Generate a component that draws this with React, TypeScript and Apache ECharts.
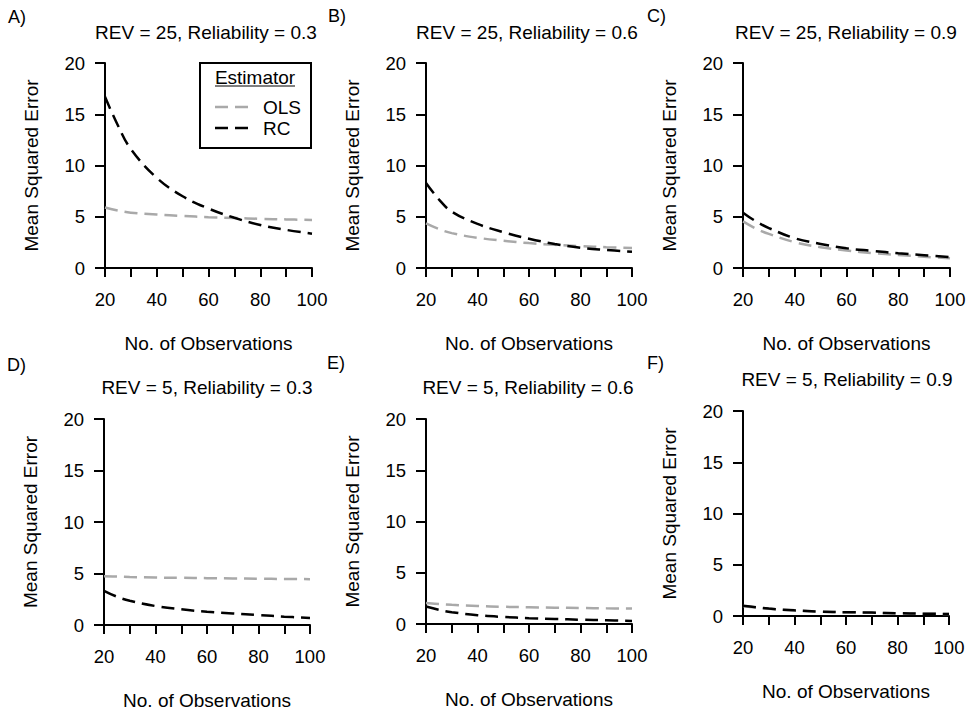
import React, { useEffect, useRef } from "react";
import * as echarts from "echarts";

const xs = [20, 25, 30, 40, 50, 60, 70, 80, 90, 100];

const olsA = [5.9, 5.6, 5.4, 5.22, 5.08, 4.96, 4.88, 4.8, 4.74, 4.69];
const rcA = [16.7, 13.9, 11.6, 8.8, 7.0, 5.8, 4.9, 4.2, 3.72, 3.35];
const olsB = [4.35, 3.8, 3.4, 2.95, 2.66, 2.43, 2.26, 2.13, 2.03, 1.96];
const rcB = [8.3, 6.7, 5.5, 4.3, 3.5, 2.85, 2.35, 1.98, 1.76, 1.58];
const olsC = [4.55, 3.85, 3.33, 2.52, 2.03, 1.7, 1.45, 1.27, 1.1, 0.95];
const rcC = [5.4, 4.55, 3.9, 2.9, 2.35, 1.92, 1.67, 1.44, 1.25, 1.06];
const olsD = [4.74, 4.7, 4.66, 4.61, 4.58, 4.55, 4.52, 4.49, 4.47, 4.45];
const rcD = [3.32, 2.75, 2.35, 1.84, 1.52, 1.29, 1.12, 0.97, 0.81, 0.68];
const olsE = [2.04, 1.95, 1.87, 1.75, 1.68, 1.63, 1.59, 1.56, 1.53, 1.51];
const rcE = [1.7, 1.38, 1.15, 0.86, 0.69, 0.57, 0.49, 0.42, 0.36, 0.3];
const olsF = [0.98, 0.83, 0.71, 0.54, 0.42, 0.36, 0.32, 0.26, 0.23, 0.2];
const rcF = [1.0, 0.85, 0.72, 0.55, 0.43, 0.37, 0.33, 0.27, 0.23, 0.2];

const panelLetters = ["A)", "B)", "C)", "D)", "E)", "F)"];
const panelTitles = [
  "REV = 25, Reliability = 0.3",
  "REV = 25, Reliability = 0.6",
  "REV = 25, Reliability = 0.9",
  "REV = 5, Reliability = 0.3",
  "REV = 5, Reliability = 0.6",
  "REV = 5, Reliability = 0.9",
];
const olsSeries = [olsA, olsB, olsC, olsD, olsE, olsF];
const rcSeries = [rcA, rcB, rcC, rcD, rcE, rcF];
const estimatorNames = ["OLS", "RC"];
const xTicks = [20, 40, 60, 80, 100];
const yTicks = [0, 5, 10, 15, 20];

const FONT = "'Liberation Sans', Arial, Helvetica, sans-serif";
const GRAY = "#a9a9a9";
const DASH = [13, 7];

// layout of panels (px)
const grids = [
  { left: 105, top: 63, width: 207, height: 205 },
  { left: 426, top: 63, width: 206, height: 205 },
  { left: 743, top: 63, width: 207, height: 205 },
  { left: 104, top: 419, width: 206, height: 206 },
  { left: 426, top: 419, width: 206, height: 205 },
  { left: 743, top: 411, width: 206, height: 205 },
];
const titlePos = [
  [206, 32], [527, 32], [846, 32],
  [207, 387], [528, 387], [847, 379],
];
const letterPos = [
  [8, 17], [328, 16], [647, 16],
  [7, 365], [327, 363], [647, 363],
];

export default function App() {
  const ref = useRef<HTMLDivElement>(null);
  useEffect(() => {
    if (!ref.current) return;
    const chart = echarts.init(ref.current, null, { renderer: "svg" });
    const xAxes: any[] = [];
    const yAxes: any[] = [];
    const series: any[] = [];
    const graphics: any[] = [];
    grids.forEach((g, i) => {
      xAxes.push({
        gridIndex: i,
        type: "value",
        min: xTicks[0],
        max: xTicks[xTicks.length - 1],
        interval: 20,
        axisLine: { show: true, onZero: false, lineStyle: { color: "#000", width: 2 } },
        axisTick: { show: true, length: 9, lineStyle: { color: "#000", width: 2 } },
        minorTick: { show: true, splitNumber: 2, length: 9, lineStyle: { color: "#000", width: 2 } },
        splitLine: { show: false },
        minorSplitLine: { show: false },
        axisLabel: { margin: 22, fontSize: 18.5, color: "#000", fontFamily: FONT },
        name: "No. of Observations",
        nameLocation: "middle",
        nameGap: 66,
        nameTextStyle: { fontSize: 19, color: "#000", fontFamily: FONT },
      });
      yAxes.push({
        gridIndex: i,
        type: "value",
        min: yTicks[0],
        max: yTicks[yTicks.length - 1],
        interval: 5,
        axisLine: { show: true, onZero: false, lineStyle: { color: "#000", width: 2 } },
        axisTick: { show: true, length: 10, lineStyle: { color: "#000", width: 2 } },
        splitLine: { show: false },
        axisLabel: { margin: 20, fontSize: 18.5, color: "#000", fontFamily: FONT },
        name: "Mean Squared Error",
        nameLocation: "middle",
        nameRotate: 90,
        nameGap: 64,
        nameTextStyle: { fontSize: 19, color: "#000", fontFamily: FONT },
      });
      series.push({
        name: estimatorNames[0],
        type: "line",
        xAxisIndex: i,
        yAxisIndex: i,
        data: xs.map((x, j) => [x, olsSeries[i][j]]),
        showSymbol: false,
        symbol: "none",
        smooth: 0.4,
        z: 2,
        lineStyle: { color: GRAY, width: 2.5, type: DASH },
      });
      series.push({
        name: estimatorNames[1],
        type: "line",
        xAxisIndex: i,
        yAxisIndex: i,
        data: xs.map((x, j) => [x, rcSeries[i][j]]),
        showSymbol: false,
        symbol: "none",
        smooth: 0.4,
        z: 3,
        lineStyle: { color: "#000", width: 2.5, type: DASH },
      });
      graphics.push({
        type: "text",
        x: titlePos[i][0],
        y: titlePos[i][1],
        style: {
          text: panelTitles[i],
          fontSize: 19,
          fontFamily: FONT,
          fill: "#000",
          align: "center",
          verticalAlign: "middle",
        },
      });
      graphics.push({
        type: "text",
        x: letterPos[i][0],
        y: letterPos[i][1],
        style: {
          text: panelLetters[i],
          fontSize: 18,
          fontFamily: FONT,
          fill: "#000",
          align: "left",
          verticalAlign: "middle",
        },
      });
    });

    // legend box in panel A
    graphics.push({
      type: "rect",
      shape: { x: 200, y: 63, width: 111, height: 85 },
      style: { fill: "#fff", stroke: "#000", lineWidth: 2 },
      z: 10,
    });
    graphics.push({
      type: "text",
      x: 255,
      y: 77,
      z: 11,
      style: {
        text: "Estimator",
        fontSize: 19,
        fontFamily: FONT,
        fill: "#000",
        align: "center",
        verticalAlign: "middle",
      },
    });
    graphics.push({
      type: "line",
      z: 11,
      shape: { x1: 215, y1: 86, x2: 295, y2: 86 },
      style: { stroke: "#000", lineWidth: 1.2 },
    });
    const legendColors = [GRAY, "#000"];
    const legendY = [107, 128];
    estimatorNames.forEach((n, k) => {
      graphics.push({
        type: "line",
        z: 11,
        shape: { x1: 215, y1: legendY[k], x2: 248, y2: legendY[k] },
        style: { stroke: legendColors[k], lineWidth: 2.5, lineDash: DASH },
      });
      graphics.push({
        type: "text",
        x: 263,
        y: legendY[k],
        z: 11,
        style: {
          text: n,
          fontSize: 19,
          fontFamily: FONT,
          fill: "#000",
          align: "left",
          verticalAlign: "middle",
        },
      });
    });

    chart.setOption({
      animation: false,
      backgroundColor: "#fff",
      grid: grids.map((g) => ({ ...g, containLabel: false })),
      xAxis: xAxes,
      yAxis: yAxes,
      series,
      graphic: graphics,
    });
    return () => chart.dispose();
  }, []);
  return (
    <div
      ref={ref}
      style={{ position: "fixed", left: 0, top: 0, width: 973, height: 711, background: "#fff" }}
    />
  );
}
